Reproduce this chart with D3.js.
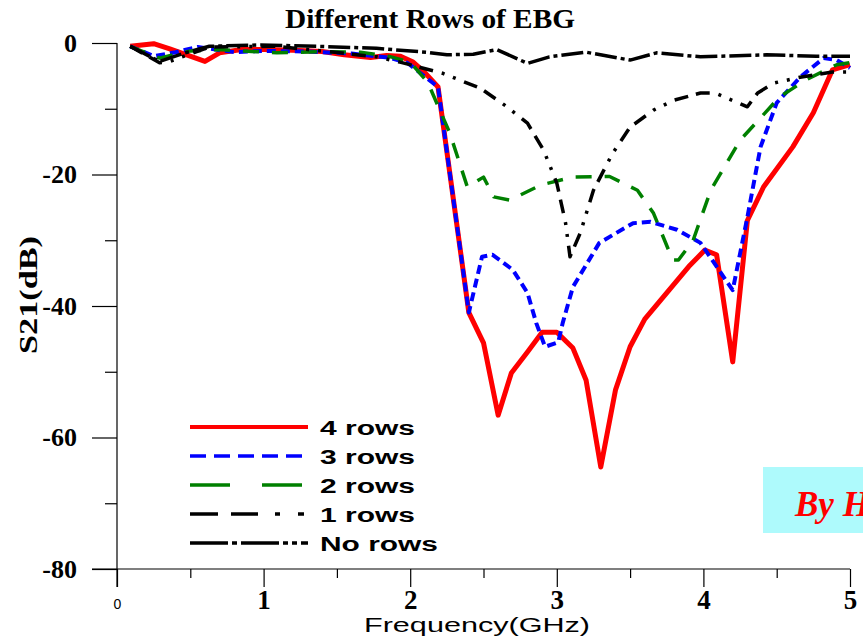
<!DOCTYPE html>
<html><head><meta charset="utf-8">
<script src="https://cdn.jsdelivr.net/npm/d3@7"></script>
<style>body{margin:0;background:#fff;overflow:hidden}</style>
</head><body>
<svg id="c" width="863" height="640"></svg>
<script>
// ---------- data ----------
const seriesNames = ["4 rows", "3 rows", "2 rows", "1 rows", "No rows"];

const freq4 = [0.09,0.25,0.36,0.6,0.7,0.85,1.0,1.2,1.4,1.55,1.73,1.84,1.93,2.02,2.1,2.19,2.4,2.5,2.6,2.69,2.8,2.9,3.0,3.11,3.2,3.3,3.4,3.5,3.6,3.75,3.9,4.01,4.09,4.2,4.3,4.41,4.61,4.75,4.88,5.0];
const s21_4 = [-0.5,-0.1,-0.9,-2.8,-1.5,-1.0,-1.0,-1.1,-1.3,-1.8,-2.2,-1.9,-2.0,-2.9,-4.5,-6.7,-41,-45.6,-56.6,-50.2,-47,-44,-44,-46.4,-51.3,-64.5,-52.8,-46.2,-42,-38,-34,-31.5,-32.2,-48.5,-27,-21.9,-15.8,-10.6,-4.1,-3.3];

const freq3 = [0.09,0.25,0.4,0.55,0.8,1.0,1.3,1.6,1.85,1.98,2.19,2.4,2.49,2.56,2.61,2.7,2.8,2.86,2.92,3.01,3.04,3.11,3.29,3.52,3.64,3.82,3.98,4.2,4.3,4.39,4.5,4.66,4.82,4.91,5.0];
const s21_3 = [-0.5,-2.0,-1.4,-0.6,-1.4,-1.2,-1.3,-1.6,-2.2,-3.0,-6.7,-41,-32.5,-32.2,-33,-34.5,-38,-42.6,-46.2,-45.5,-42.6,-37.1,-30.4,-27.4,-27.2,-28.4,-30.4,-37.6,-26.5,-15.8,-9.1,-5.2,-2.3,-2.6,-3.8];

const freq2 = [0.09,0.29,0.5,0.7,1.09,1.4,1.66,1.85,2.0,2.12,2.27,2.39,2.5,2.57,2.68,2.89,3.11,3.36,3.55,3.66,3.79,3.83,3.93,4.05,4.25,4.52,4.7,4.91,5.0];
const s21_2 = [-0.5,-2.3,-1.2,-1.0,-1.5,-1.3,-1.4,-2.0,-2.9,-6,-13.7,-21.9,-20.4,-23.4,-23.9,-21.6,-20.4,-20.3,-22.4,-25.9,-33,-33,-30,-22.4,-14.8,-8.2,-5.6,-3.3,-3.0];

const freq1 = [0.09,0.29,0.36,0.63,1.09,1.52,1.77,1.93,2.22,2.48,2.66,2.8,2.91,3.0,3.06,3.09,3.16,3.25,3.38,3.5,3.66,3.8,3.98,4.08,4.3,4.37,4.48,4.66,4.88,5.0];
const s21_1 = [-0.5,-3.0,-2.8,-0.6,-0.5,-1.5,-2.1,-2.9,-4.6,-6.9,-9.7,-12.2,-16.3,-21.3,-27.4,-32.5,-28.9,-22.4,-16.8,-12.8,-10.2,-8.7,-7.6,-7.6,-9.7,-7.6,-6.1,-5.2,-4.4,-4.4];

const freq0 = [0.09,0.29,0.45,0.63,0.98,1.36,1.77,1.93,2.11,2.25,2.43,2.59,2.8,2.95,3.2,3.5,3.68,3.98,4.43,4.77,5.0];
const s21_0 = [-0.5,-2.8,-1.6,-0.5,-0.3,-0.5,-0.8,-1.1,-1.4,-1.8,-1.7,-1.0,-3.1,-2.1,-1.4,-2.6,-1.5,-2.1,-1.8,-2.0,-2.0];

const xTickValues = [0, 1, 2, 3, 4, 5];
const xMinorValues = [0.5, 1.5, 2.5, 3.5, 4.5];
const yTickValues = [0, -20, -40, -60, -80];
const yMinorValues = [-10, -30, -50, -70];

const titleText = "Different Rows of EBG";
const xTitle = "Frequency(GHz)";
const yTitle = "S21(dB)";
const creditText = "By H";

// ---------- styles ----------
const styles = [
  {color:"#ff0000", width:5,   dash:null,                    legendDash:null,                      legendWidth:4},
  {color:"#0000ff", width:4,   dash:"9,5",                   legendDash:"16,8",                    legendWidth:3.5},
  {color:"#008000", width:3.5, dash:"16,13",                 legendDash:"40,32",                   legendWidth:3.5},
  {color:"#000000", width:3.5, dash:"14,8,14,9,3,9,3,9",     legendDash:"28,13,27,17,5,18,6,10",   legendWidth:3.5},
  {color:"#000000", width:3.5, dash:"22,4,4,4",              legendDash:"38,4,5,4,38,4,5,4,5,4",   legendWidth:3.5}
];
const seriesData = [[freq4,s21_4],[freq3,s21_3],[freq2,s21_2],[freq1,s21_1],[freq0,s21_0]];

// ---------- chart ----------
const svg = d3.select("#c");
const x = d3.scaleLinear().domain([0, 5]).range([117, 850]);
const y = d3.scaleLinear().domain([-80, 0]).range([569, 43]);

function stretch(sel, target) {
  sel.each(function() {
    this.setAttribute("textLength", target);
    this.setAttribute("lengthAdjust", "spacingAndGlyphs");
  });
}

// title
svg.append("text").text(titleText)
  .attr("x", 430).attr("y", 28).attr("text-anchor", "middle")
  .style("font-family", "'Liberation Serif', 'Times New Roman', serif")
  .style("font-weight", "bold").style("font-size", "28px")
  .call(s => stretch(s, 290));

// credit box
svg.append("rect").attr("x", 763).attr("y", 467).attr("width", 110).attr("height", 66).attr("fill", "#aefafc");
svg.append("text").text(creditText)
  .attr("x", 795).attr("y", 516)
  .style("font-family", "'Liberation Serif', serif").style("font-weight", "bold")
  .style("font-style", "italic").style("font-size", "35px").attr("fill", "#ff0000");

// y axis
const yAxis = svg.append("g").attr("transform", "translate(117,0)")
  .call(d3.axisLeft(y).tickValues(yTickValues).tickSize(25).tickSizeOuter(0).tickPadding(15).tickFormat(d3.format("d")));
yAxis.select(".domain").remove();
yAxis.selectAll("line").attr("stroke", "#000").attr("stroke-width", 1.2);
yAxis.selectAll("text")
  .style("font-family", "'Liberation Serif', serif").style("font-weight", "bold").style("font-size", "26px")
  .text(d => d === 0 ? "0" : "-" + Math.abs(d));
const yMinorAxis = svg.append("g").attr("transform", "translate(117,0)")
  .call(d3.axisLeft(y).tickValues(yMinorValues).tickSize(12).tickSizeOuter(0).tickFormat(""));
yMinorAxis.select(".domain").remove();
yMinorAxis.selectAll("line").attr("stroke", "#000").attr("stroke-width", 1.2);
svg.append("line").attr("x1", 117).attr("x2", 117).attr("y1", y(0)).attr("y2", 587)
  .attr("stroke", "#000").attr("stroke-width", 1.2);

// x axis
const xAxis = svg.append("g").attr("transform", "translate(0,569)")
  .call(d3.axisBottom(x).tickValues(xTickValues).tickSize(18).tickSizeOuter(0).tickFormat(d3.format("d")));
xAxis.select(".domain").remove();
xAxis.selectAll("line").attr("stroke", "#000").attr("stroke-width", 1.2);
xAxis.selectAll("text").attr("dy", null).attr("y", 40)
  .style("font-family", "'Liberation Serif', serif").style("font-weight", "bold").style("font-size", "27px");
xAxis.selectAll("text").filter(d => d === 0)
  .attr("y", 40)
  .style("font-family", "'Liberation Sans', Arial, sans-serif").style("font-weight", "normal").style("font-size", "14px");
const xMinorAxis = svg.append("g").attr("transform", "translate(0,569)")
  .call(d3.axisBottom(x).tickValues(xMinorValues).tickSize(9).tickSizeOuter(0).tickFormat(""));
xMinorAxis.select(".domain").remove();
xMinorAxis.selectAll("line").attr("stroke", "#000").attr("stroke-width", 1.2);
svg.append("line").attr("x1", 92).attr("x2", x(5)).attr("y1", y(-80)).attr("y2", y(-80))
  .attr("stroke", "#000").attr("stroke-width", 1.2);

// axis titles
svg.append("text").text(xTitle)
  .attr("x", 477).attr("y", 632).attr("text-anchor", "middle")
  .style("font-family", "'Liberation Sans', Arial, sans-serif").style("font-size", "20px")
  .call(s => stretch(s, 226));
svg.append("text").text(yTitle)
  .attr("transform", "translate(37,295) rotate(-90)").attr("text-anchor", "middle")
  .style("font-family", "'Liberation Serif', serif").style("font-weight", "bold").style("font-size", "25px")
  .call(s => stretch(s, 118));

// lines
const line = d3.line().x(d => x(d[0])).y(d => y(d[1]));
const plot = svg.append("g");
seriesData.forEach((sd, i) => {
  const pts = sd[0].map((f, k) => [f, sd[1][k]]);
  plot.append("path").datum(pts)
    .attr("d", line).attr("fill", "none")
    .attr("stroke", styles[i].color).attr("stroke-width", styles[i].width)
    .attr("stroke-dasharray", styles[i].dash)
    .attr("stroke-linejoin", "round");
});

// legend
const legendY = [427, 456, 485, 514, 543];
const legendTextW = [95, 95, 95, 95, 118];
const lg = svg.append("g");
seriesNames.forEach((name, i) => {
  lg.append("line").attr("x1", 190).attr("x2", 308).attr("y1", legendY[i]).attr("y2", legendY[i])
    .attr("stroke", styles[i].color).attr("stroke-width", styles[i].legendWidth)
    .attr("stroke-dasharray", styles[i].legendDash);
  lg.append("text").text(name).attr("x", 320).attr("y", legendY[i] + 8)
    .style("font-family", "'Liberation Sans', Arial, sans-serif").style("font-weight", "bold").style("font-size", "20px")
    .call(s => stretch(s, legendTextW[i]));
});
</script>
</body></html>
